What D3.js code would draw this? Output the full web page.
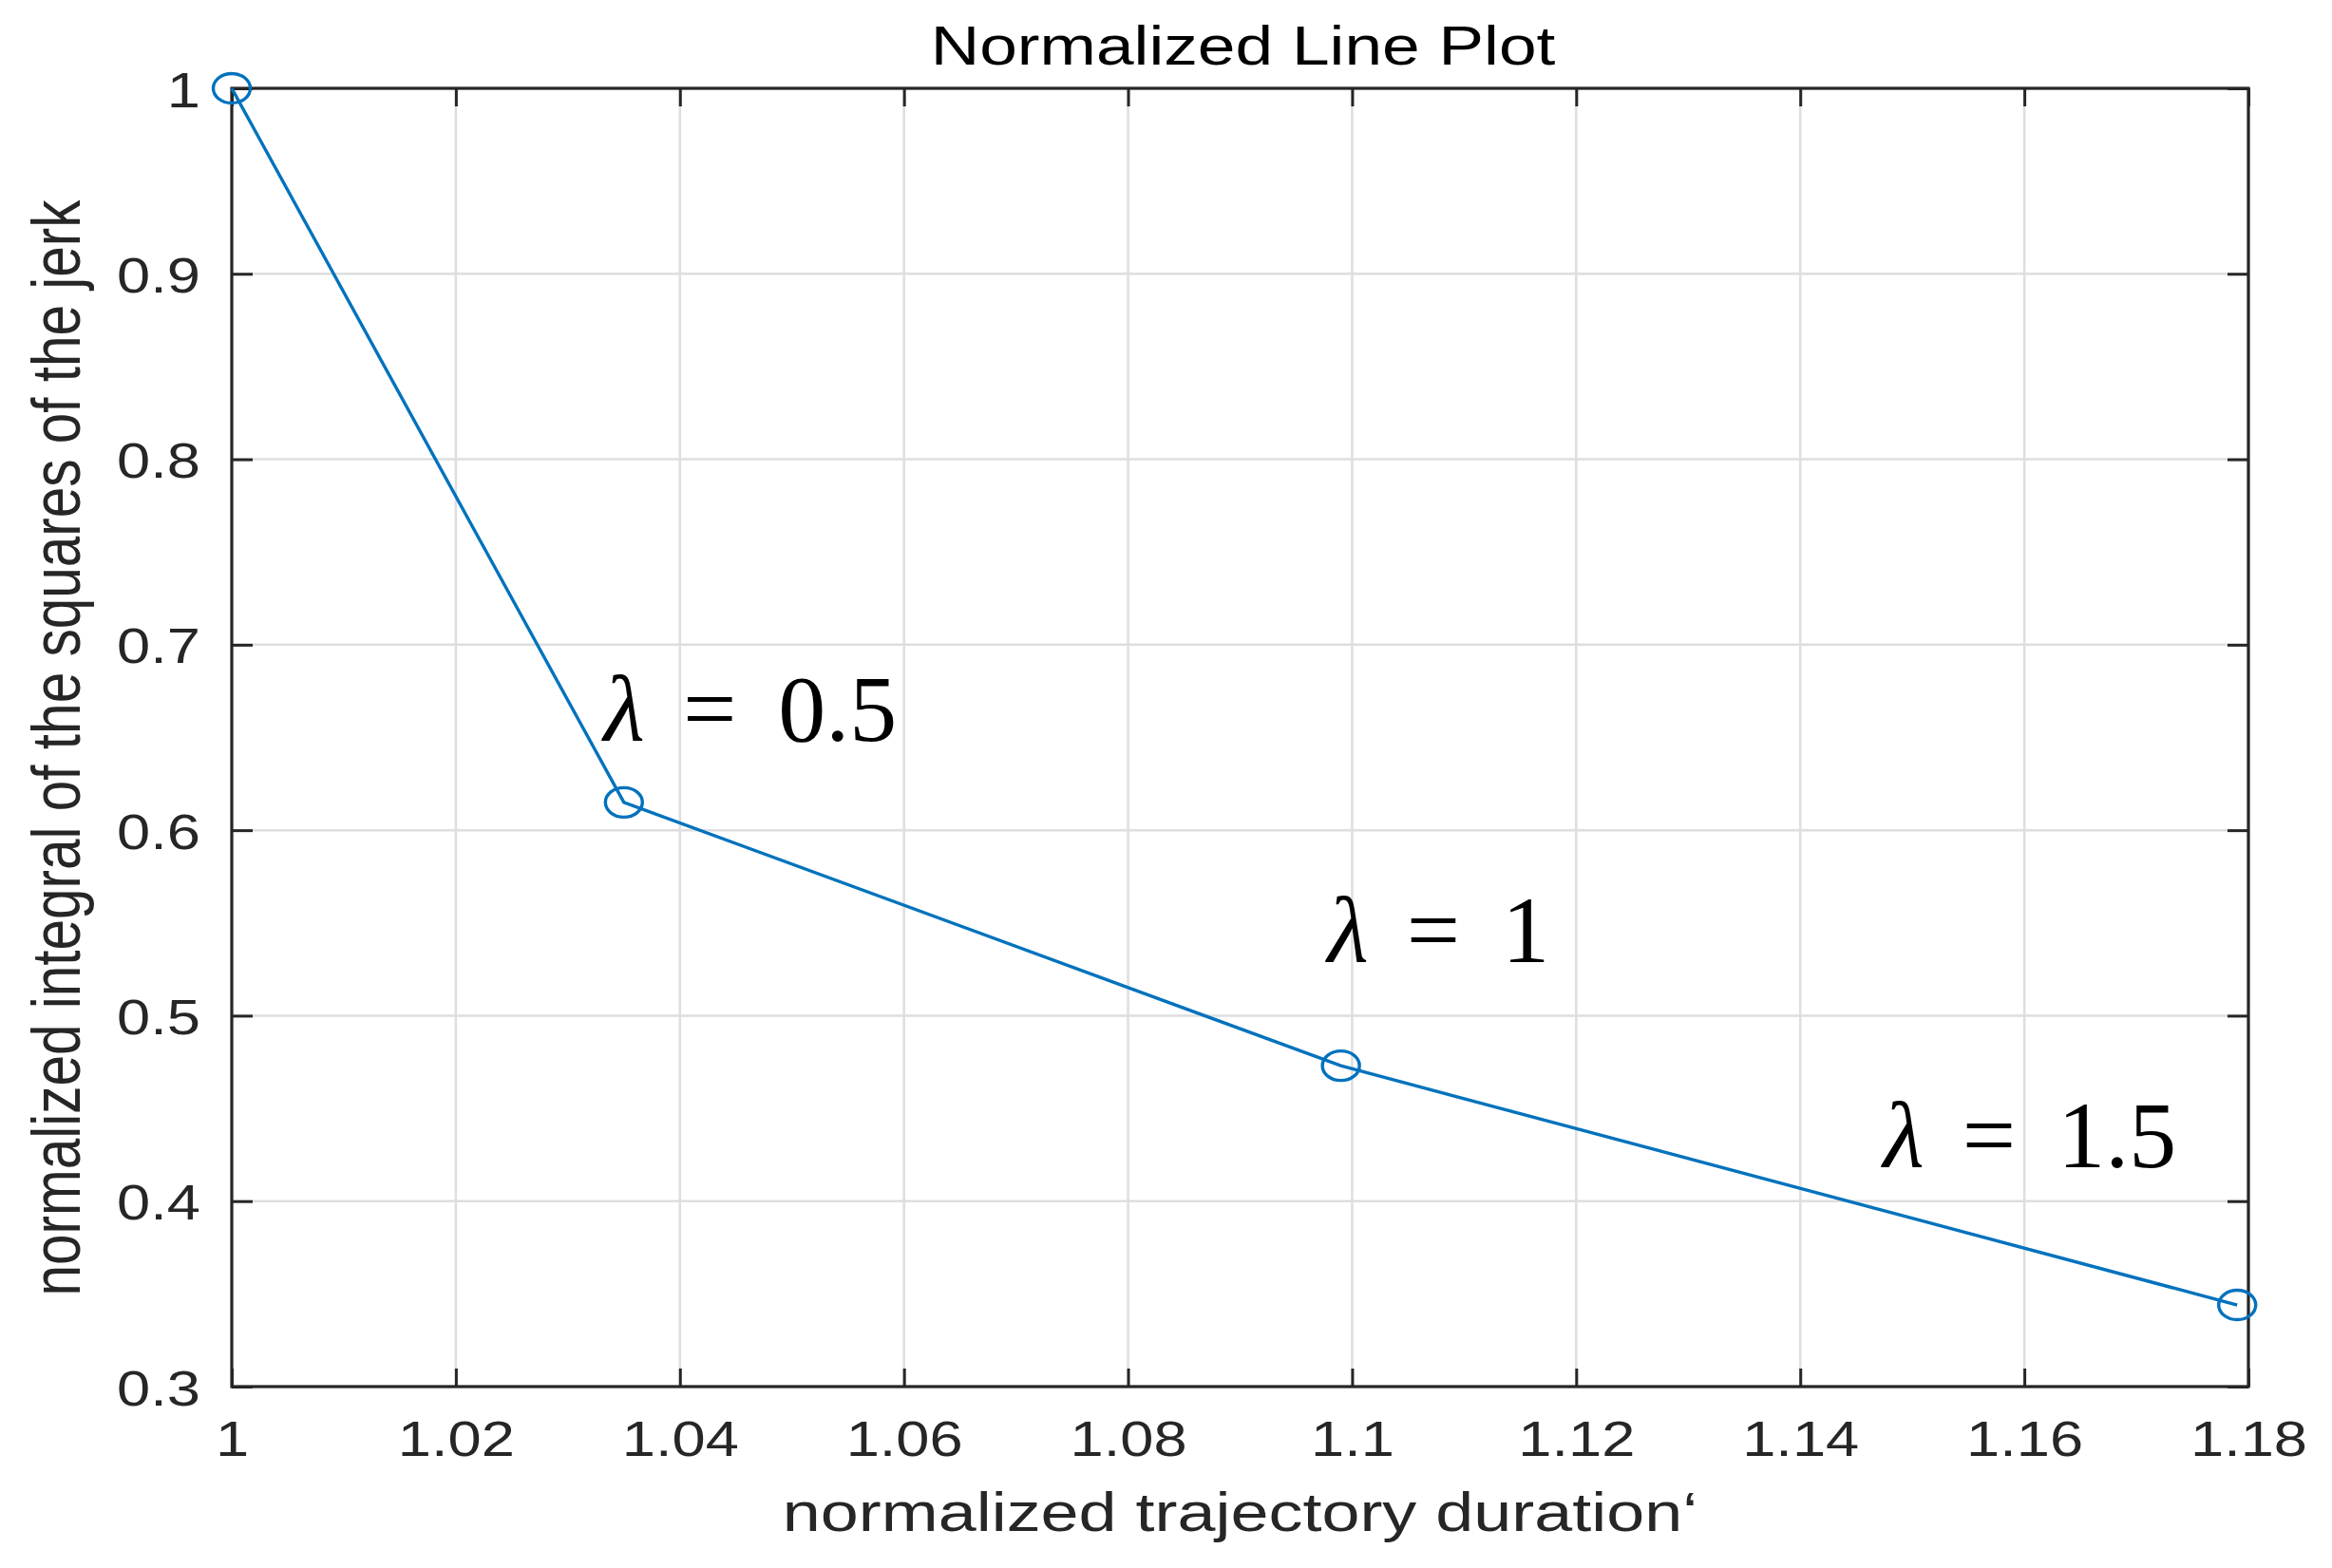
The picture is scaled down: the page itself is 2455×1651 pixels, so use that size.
<!DOCTYPE html>
<meta charset="utf-8">
<style>
body {
  margin: 0;
  background: #fff;
}
text {
  font-family: "Liberation Sans", Arial, Helvetica, sans-serif;
}
.grid line {
  stroke: #dedede;
  stroke-width: 2.5;
}
.tick line {
  stroke: #262626;
  stroke-width: 3;
}
text.note {
  font-family: "Liberation Serif", "Times New Roman", serif;
}
</style>
<body>
<script src="https://cdn.jsdelivr.net/npm/d3@7"></script>
<script>

// values
var durations = [1, 1.035, 1.099, 1.179];
var jerks = [1, 0.615, 0.473, 0.344];

var xTicks = [1, 1.02, 1.04, 1.06, 1.08, 1.1, 1.12, 1.14, 1.16, 1.18];
var xTickLabels = ["1", "1.02", "1.04", "1.06", "1.08", "1.1", "1.12", "1.14", "1.16", "1.18"];
var yTicks = [0.3, 0.4, 0.5, 0.6, 0.7, 0.8, 0.9, 1];
var yTickLabels = ["0.3", "0.4", "0.5", "0.6", "0.7", "0.8", "0.9", "1"];

var lambdaLabels = ["0.5", "1", "1.5"];
var lambdaX = [1.0332, 1.0978, 1.1474];
var lambdaY = [0.6482, 0.5289, 0.4183];

var width = 2455,
    height = 1651,
    stretch = 1.24; // the original figure is stretched horizontally

var plotLeft = 244, plotRight = 2367, plotTop = 93, plotBottom = 1460;

var x = d3.scaleLinear()
    .domain([1, 1.18])
    .range([plotLeft, plotRight]);

var y = d3.scaleLinear()
    .domain([0.3, 1])
    .range([plotBottom, plotTop]);

var svg = d3.select("body").append("svg")
    .attr("width", width)
    .attr("height", height);

// grid
var grid = svg.append("g").attr("class", "grid");
grid.selectAll(".gx")
    .data(xTicks)
  .enter().append("line")
    .attr("x1", function(d) { return x(d); })
    .attr("x2", function(d) { return x(d); })
    .attr("y1", plotTop)
    .attr("y2", plotBottom);
grid.selectAll(".gy")
    .data(yTicks)
  .enter().append("line")
    .attr("y1", function(d) { return y(d); })
    .attr("y2", function(d) { return y(d); })
    .attr("x1", plotLeft)
    .attr("x2", plotRight);

// axes, ticks pointing inward on all four sides
function styleAxis(g) {
  g.select(".domain").remove();
  g.attr("font-family", null).attr("font-size", null);
}

svg.append("g")
    .attr("transform", "translate(0," + plotBottom + ")")
    .call(d3.axisBottom(x).tickValues(xTicks)
      .tickFormat(function(d, i) { return xTickLabels[i]; })
      .tickSizeInner(-19).tickSizeOuter(0))
    .call(styleAxis)
  .selectAll("text")
    .attr("y", 73)
    .attr("dy", 0)
    .attr("font-size", 51)
    .attr("fill", "#262626")
    .attr("transform", "scale(" + stretch + ",1)");

svg.append("g")
    .attr("transform", "translate(0," + plotTop + ")")
    .call(d3.axisTop(x).tickValues(xTicks).tickFormat("")
      .tickSizeInner(-19).tickSizeOuter(0))
    .call(styleAxis);

svg.append("g")
    .attr("transform", "translate(" + plotLeft + ",0)")
    .call(d3.axisLeft(y).tickValues(yTicks)
      .tickFormat(function(d, i) { return yTickLabels[i]; })
      .tickSizeInner(-22).tickSizeOuter(0))
    .call(styleAxis)
  .selectAll("text")
    .attr("x", -33 / stretch)
    .attr("dy", 19)
    .attr("font-size", 51)
    .attr("fill", "#262626")
    .attr("transform", "scale(" + stretch + ",1)");

svg.append("g")
    .attr("transform", "translate(" + plotRight + ",0)")
    .call(d3.axisRight(y).tickValues(yTicks).tickFormat("")
      .tickSizeInner(-22).tickSizeOuter(0))
    .call(styleAxis);

svg.append("rect")
    .attr("x", plotLeft)
    .attr("y", plotTop)
    .attr("width", plotRight - plotLeft)
    .attr("height", plotBottom - plotTop)
    .attr("fill", "none")
    .attr("stroke", "#262626")
    .attr("stroke-width", 3.2);

// titles
svg.append("text")
    .attr("transform", "translate(" + ((plotLeft + plotRight) / 2 + 3) + ",68) scale(" + stretch + ",1)")
    .attr("text-anchor", "middle")
    .attr("font-size", 57.5)
    .attr("fill", "#000")
    .text("Normalized Line Plot");

svg.append("text")
    .attr("transform", "translate(" + ((plotLeft + plotRight) / 2) + ",1612) scale(" + stretch + ",1)")
    .attr("text-anchor", "middle")
    .attr("font-size", 58)
    .attr("fill", "#262626")
    .text("normalized trajectory duration\u2018");

svg.append("text")
    .attr("transform", "translate(84," + ((plotTop + plotBottom) / 2 + 11) + ") scale(" + stretch + ",1) rotate(-90)")
    .attr("text-anchor", "middle")
    .attr("font-size", 58.5)
    .attr("fill", "#262626")
    .text("normalized integral of the squares of the jerk");

// data
var pts = durations.map(function(d, i) { return [d, jerks[i]]; });

var line = d3.line()
    .x(function(d) { return x(d[0]); })
    .y(function(d) { return y(d[1]); });

svg.append("path")
    .datum(pts)
    .attr("d", line)
    .attr("fill", "none")
    .attr("stroke", "#0072BD")
    .attr("stroke-width", 3.4);

svg.selectAll(".marker")
    .data(pts)
  .enter().append("ellipse")
    .attr("class", "marker")
    .attr("cx", function(d) { return x(d[0]); })
    .attr("cy", function(d) { return y(d[1]); })
    .attr("rx", 19.5)
    .attr("ry", 15.5)
    .attr("fill", "none")
    .attr("stroke", "#0072BD")
    .attr("stroke-width", 3.4);

// lambda annotations
var notes = svg.selectAll(".note")
    .data(lambdaLabels)
  .enter().append("text")
    .attr("class", "note")
    .attr("x", function(d, i) { return x(lambdaX[i]); })
    .attr("y", function(d, i) { return y(lambdaY[i]); })
    .attr("font-size", 100)
    .attr("fill", "#000");

notes.append("tspan")
    .attr("font-style", "italic")
    .text("\u03bb");
notes.append("tspan")
    .attr("dx", 40)
    .text("=");
notes.append("tspan")
    .attr("dx", 44)
    .text(function(d) { return d; });

</script>
